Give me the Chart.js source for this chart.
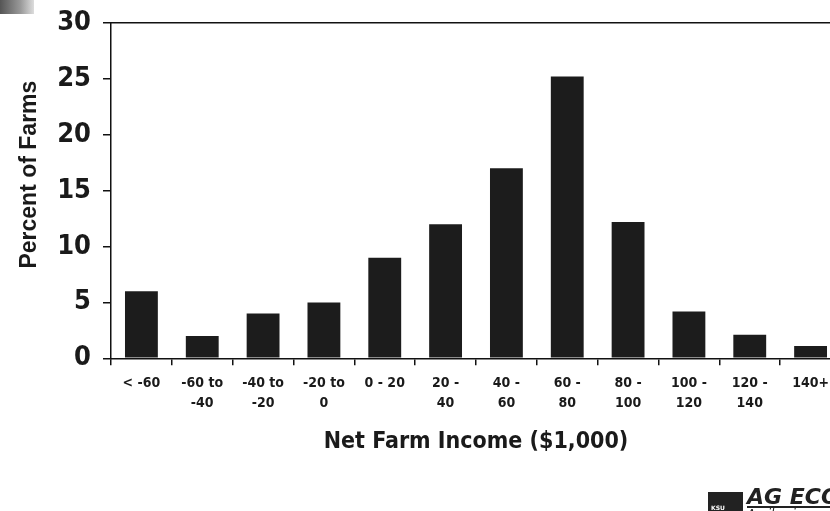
<!DOCTYPE html>
<html>
<head>
<meta charset="utf-8">
<script src="https://cdn.jsdelivr.net/npm/chart.js@4.4.0/dist/chart.umd.min.js"></script>
<style>
    body { margin: 0; background: #fff; overflow: hidden; width: 830px; height: 511px; }
    #wrap { position: relative; width: 830px; height: 511px; overflow: hidden; }
    #incomeChart { position: absolute; left: 0; top: 0; }
    .corner { position: absolute; left: 0; top: 0; width: 34px; height: 14px; background: linear-gradient(90deg, #555, #999 60%, #ddd); }
    .logo { position: absolute; left: 708px; top: 487px; width: 140px; height: 30px; font-family: "DejaVu Sans", sans-serif; white-space: nowrap; }
    .logo .box { position: absolute; left: 0; top: 5px; width: 35px; height: 25px; background: #222; }
    .logo .box span { position: absolute; left: 3px; bottom: 6px; color: #fff; font-size: 6px; font-weight: bold; }
    .logo .ag { position: absolute; left: 39px; top: 0; font-size: 22px; font-weight: bold; font-style: italic; color: #222; border-bottom: 2px solid #222; line-height: 19px; }
    .logo .sub { position: absolute; left: 39px; top: 20px; font-size: 12px; font-style: italic; color: #222; }
</style>
</head>
<body>
<div id="wrap">
    <canvas id="incomeChart" width="860" height="511"></canvas>
    <div class="corner"></div>
    <div class="logo">
        <div class="box"><span>KSU</span></div>
        <div class="ag">AG ECON</div>
        <div class="sub">Agribusiness</div>
    </div>
</div>
<script>
// Distribucion de granjas por ingreso neto
const incomeRanges = [
    '< -60', ['-60 to', '-40'], ['-40 to', '-20'], ['-20 to', '0'], '0 - 20', ['20 -', '40'],
    ['40 -', '60'], ['60 -', '80'], ['80 -', '100'], ['100 -', '120'], ['120 -', '140'], '140+'
];
const percentFarms = [6, 2, 4, 5, 9, 12, 17, 25.2, 12.2, 4.2, 2.1, 1.1];
const yTicks = [0, 5, 10, 15, 20, 25, 30];

// Linea superior del marco
const topBorder = {
    id: 'topBorder',
    afterDraw(chart) {
        const { ctx, chartArea } = chart;
        ctx.save();
        ctx.strokeStyle = '#111';
        ctx.lineWidth = 1.5;
        ctx.beginPath();
        ctx.moveTo(chartArea.left, chartArea.top);
        ctx.lineTo(chartArea.right + 20, chartArea.top);
        ctx.stroke();
        ctx.restore();
    }
};

const ctx = document.getElementById('incomeChart').getContext('2d');
const incomeChart = new Chart(ctx, {
    type: 'bar',
    data: {
        labels: incomeRanges,
        datasets: [{
            data: percentFarms,
            backgroundColor: '#1c1c1c',
            borderWidth: 0,
            barPercentage: 0.54,
            categoryPercentage: 1
        }]
    },
    plugins: [topBorder],
    options: {
        responsive: false,
        animation: false,
        layout: { padding: { top: 22, right: 19, bottom: 55, left: 0 } },
        plugins: {
            legend: { display: false },
            tooltip: { enabled: false }
        },
        scales: {
            x: {
                offset: true,
                grid: { offset: true, drawOnChartArea: false, drawTicks: true, tickLength: 7, color: '#111', lineWidth: 1.5 },
                border: { display: true, color: '#111', width: 1.5 },
                ticks: {
                    color: '#1a1a1a',
                    maxRotation: 0,
                    autoSkip: false,
                    padding: 8,
                    font: { family: 'DejaVu Sans Condensed', size: 14, weight: 'bold', lineHeight: 1.43 }
                },
                title: {
                    display: true,
                    text: 'Net Farm Income ($1,000)',
                    color: '#1a1a1a',
                    padding: { top: 7, bottom: 0 },
                    font: { family: 'DejaVu Sans Condensed', size: 23, weight: 'bold' }
                }
            },
            y: {
                min: 0,
                max: 30,
                afterFit(scale) { scale.width = 111; },
                afterBuildTicks(scale) { scale.ticks = yTicks.map(v => ({ value: v })); },
                grid: { drawOnChartArea: false, drawTicks: true, tickLength: 8, color: '#111', lineWidth: 1.5 },
                border: { display: true, color: '#111', width: 1.5 },
                ticks: {
                    color: '#1a1a1a',
                    padding: 12,
                    font: { family: 'DejaVu Sans Condensed', size: 27, weight: 'bold', lineHeight: 0.8 }
                },
                title: {
                    display: true,
                    text: '     Percent of Farms',
                    color: '#1a1a1a',
                    padding: { top: 16, bottom: 0 },
                    font: { family: 'Liberation Sans', size: 23, weight: 'bold' }
                }
            }
        }
    }
});
</script>
</body>
</html>
